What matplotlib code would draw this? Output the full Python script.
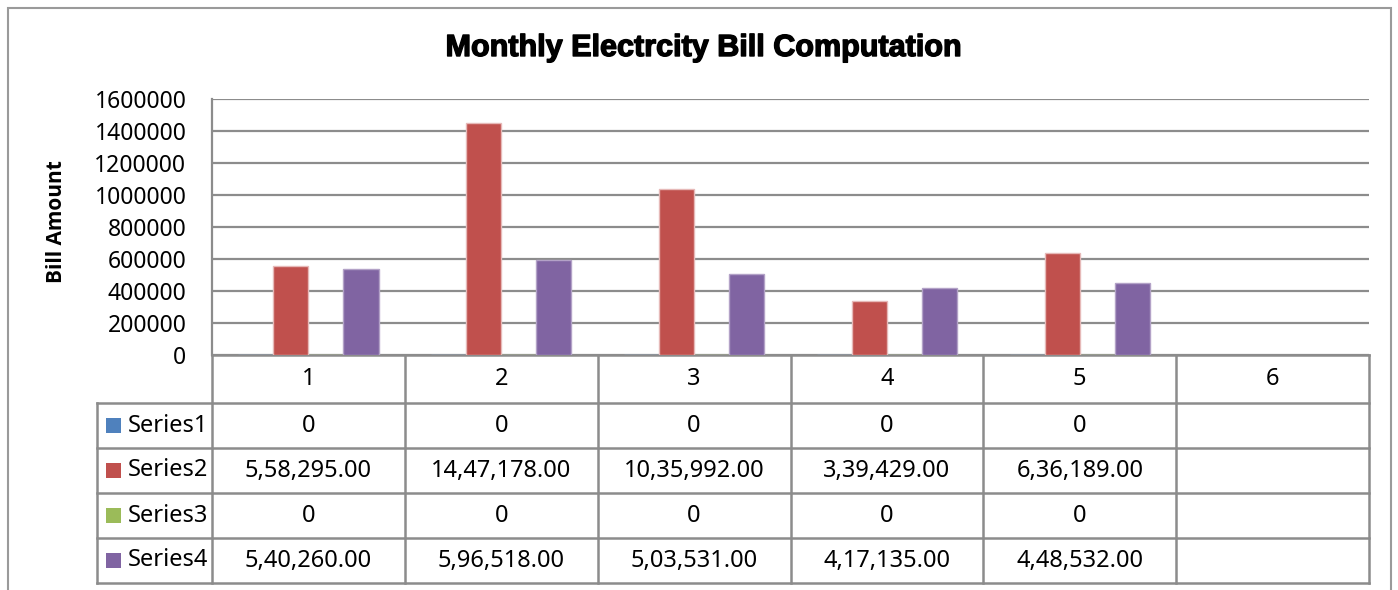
import numpy as np
import matplotlib
matplotlib.use('Agg')
import matplotlib.pyplot as plt
import matplotlib.patheffects as pe
from matplotlib.transforms import blended_transform_factory
from matplotlib.patches import Rectangle

# data
categories = ['1', '2', '3', '4', '5', '6']
series_names = ['Series1', 'Series2', 'Series3', 'Series4']
series1 = [0, 0, 0, 0, 0, None]
series2 = [558295, 1447178, 1035992, 339429, 636189, None]
series3 = [0, 0, 0, 0, 0, None]
series4 = [540260, 596518, 503531, 417135, 448532, None]
colors = ['#4F81BD', '#C0504D', '#9BBB59', '#8064A2']
edges = ['#95B3D7', '#E6B9B8', '#C3D69B', '#B3A2C7']
yticks = [0, 200000, 400000, 600000, 800000, 1000000, 1200000, 1400000, 1600000]


def indian(v):
    # 1447178 -> 14,47,178.00
    s = str(int(v))
    if len(s) > 3:
        head, tail = s[:-3], s[-3:]
        parts = []
        while len(head) > 2:
            parts.insert(0, head[-2:])
            head = head[:-2]
        if head:
            parts.insert(0, head)
        s = ','.join(parts) + ',' + tail
    return s + '.00'


def cell_text(v):
    if v is None:
        return ''
    if v == 0:
        return '0'
    return indian(v)


W, H = 1398, 590
fig = plt.figure(figsize=(W / 100, H / 100), dpi=100)
font = 'Noto Sans'
grid_c = '#8C8C8C'

# chart frame
fig.patches.append(Rectangle((8 / W, -0.1), 1383 / W, 1.1 - 8 / H, transform=fig.transFigure,
                             fill=False, edgecolor='#9A9A9A', lw=1.5))

ax = fig.add_axes([212 / W, 1 - 355 / H, (1369 - 212) / W, (355 - 99) / H])
all_series = [series1, series2, series3, series4]
n = len(categories)
bw = 1 / 5.5
x = np.arange(n) + 0.5
for i, s in enumerate(all_series):
    vals = np.array([np.nan if v is None else v for v in s], dtype=float)
    ax.bar(x + (i - 1.5) * bw, vals, width=bw, color=colors[i], edgecolor=edges[i], lw=1, zorder=3)

ax.set_xlim(0, n)
ax.set_ylim(0, 1600000)
ax.set_yticks(yticks)
ax.set_yticklabels([str(t) for t in yticks], fontfamily=font, fontsize=16.5)
ax.tick_params(axis='y', length=0, pad=18.5)
ax.set_xticks([])
ax.grid(axis='y', color=grid_c, lw=1.6, zorder=0)
for sp in ['top', 'right', 'bottom']:
    ax.spines[sp].set_visible(False)
ax.spines['left'].set_color(grid_c)
ax.spines['left'].set_linewidth(1.6)
ax.set_ylabel('Bill Amount', fontfamily='Open Sans', fontweight='bold', fontsize=15)
ax.yaxis.set_label_coords(-0.1255, 0.52)

fig.suptitle('Monthly Electrcity Bill Computation', x=703 / W, y=1 - 48 / H, va='center',
             fontfamily='Liberation Sans', fontweight='bold', fontsize=22,
             path_effects=[pe.withStroke(linewidth=1.0, foreground='black')])

# data table under the axis, y in axes fraction
tr = blended_transform_factory(ax.transData, ax.transAxes)
px = 1 / 256  # one pixel in axes fraction
row_edges = [0, -48 * px, -93 * px, -138 * px, -183 * px, -228 * px]
left = -(212 - 97) / (1157 / n)
lk = dict(color=grid_c, lw=1.8, transform=tr, clip_on=False)

ax.plot([0, n], [0, 0], **lk)
for yy in row_edges[1:]:
    ax.plot([left, n], [yy, yy], **lk)
for c in range(n + 1):
    ax.plot([c, c], [0, row_edges[-1]], **lk)
ax.plot([left, left], [row_edges[1], row_edges[-1]], **lk)

tk = dict(transform=tr, fontfamily=font, fontsize=17, ha='center', va='center', clip_on=False)
for c in range(n):
    ax.text(c + 0.5, (row_edges[0] + row_edges[1]) / 2, categories[c], **tk)
for r, s in enumerate(all_series):
    ym = (row_edges[r + 1] + row_edges[r + 2]) / 2
    for c in range(n):
        ax.text(c + 0.5, ym, cell_text(s[c]), **tk)
    # legend key + series name
    ax.add_patch(Rectangle((left + 9 / 192.8, ym - 7.5 * px), 15 / 192.8, 15 * px, transform=tr,
                           facecolor=colors[r], edgecolor='none', clip_on=False))
    ax.text(left + 31 / 192.8, ym, series_names[r], transform=tr, fontfamily=font, fontsize=17,
            ha='left', va='center', clip_on=False)

fig.savefig('out.png', dpi=100)
